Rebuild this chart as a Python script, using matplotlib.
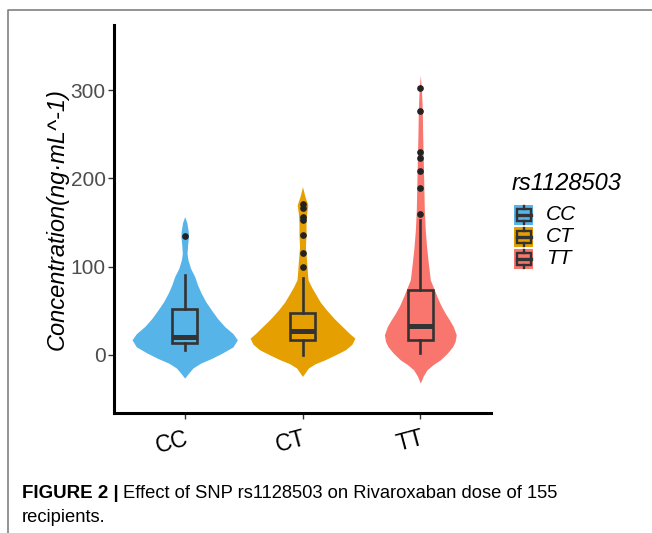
"""
Violin + box plot of concentration by rs1128503 genotype
"""
import numpy as np
import matplotlib
matplotlib.use('Agg')
import matplotlib.pyplot as plt
from matplotlib.patches import Rectangle

plt.rcParams['font.family'] = ['Liberation Sans', 'DejaVu Sans']

# Genotype groups
genotypes = ['CC', 'CT', 'TT']
colors = ['#56B4E9', '#E69F00', '#F8766D']

# Violin outlines: value, half width (x units)
cc_vals = [156.6, 150, 140, 134, 125, 115, 107.6, 98, 88.7, 79, 69.9, 60, 51, 41, 32, 24, 17, 9, 1.9, -4, -9.4, -15, -20.7, -26.4]
cc_half = [0, 0.018, 0.03, 0.032, 0.025, 0.02, 0.028, 0.05, 0.085, 0.11, 0.14, 0.18, 0.226, 0.28, 0.34, 0.41, 0.447, 0.41, 0.318, 0.23, 0.136, 0.07, 0.034, 0]

ct_vals = [190.6, 180, 170, 160, 150, 136, 122.6, 107.6, 93, 85, 77, 70, 60, 51, 41, 32, 24, 18.9, 12, 5.7, 0, -5.7, -10, -15, -24.5]
ct_half = [0, 0.02, 0.045, 0.035, 0.03, 0.03, 0.025, 0.034, 0.042, 0.047, 0.076, 0.106, 0.15, 0.203, 0.27, 0.339, 0.4, 0.445, 0.42, 0.364, 0.28, 0.19, 0.11, 0.05, 0]

tt_vals = [317, 300, 277, 250, 221, 190, 164, 141.6, 120, 104, 85, 66, 56, 47, 39, 32, 22.6, 15, 9.4, 2, -5.7, -11, -17, -24, -32]
tt_half = [0, 0.01, 0.017, 0.02, 0.025, 0.03, 0.034, 0.042, 0.055, 0.068, 0.085, 0.142, 0.175, 0.212, 0.25, 0.28, 0.305, 0.295, 0.275, 0.23, 0.17, 0.11, 0.057, 0.025, 0]

violin_vals = [cc_vals, ct_vals, tt_vals]
violin_half = [cc_half, ct_half, tt_half]

# Box plot statistics
whis_lo = [4.9, 0.0, 1.9]
q1 = [13.2, 17.0, 17.0]
medians = [20.4, 27.2, 33.2]
q3 = [51.7, 47.2, 73.6]
whis_hi = [90.0, 86.8, 152.9]
outliers = [
    [135],
    [171, 167, 156, 153, 136, 116, 99],
    [303, 277, 230, 223, 208, 189, 160],
]

fig = plt.figure(figsize=(6.52, 5.33), dpi=100)

# background layer: frame, caption, legend
bg = fig.add_axes([0, 0, 1, 1], zorder=-1)
bg.set_xlim(0, 652)
bg.set_ylim(533, 0)
bg.axis('off')
bg.plot([8, 8, 652], [533, 9.5, 9.5], color='#808080', lw=1.2, solid_capstyle='butt')

ax = fig.add_axes([114/652, 1-413/533, (491-114)/652, (413-25)/533])
pos = np.arange(1, len(genotypes)+1)

for i in range(len(genotypes)):
    v = np.array(violin_vals[i])
    h = np.array(violin_half[i])
    ax.fill_betweenx(v, pos[i]-h, pos[i]+h, color=colors[i], lw=0, zorder=1)

stats = []
for i in range(len(genotypes)):
    stats.append(dict(whislo=whis_lo[i], q1=q1[i], med=medians[i], q3=q3[i],
                      whishi=whis_hi[i], fliers=outliers[i]))

bp = ax.bxp(stats, positions=pos, widths=0.21, patch_artist=True, showcaps=False,
            boxprops=dict(edgecolor='#333333', linewidth=1.9),
            whiskerprops=dict(color='#333333', linewidth=1.9),
            medianprops=dict(color='#333333', linewidth=3.6, solid_capstyle='butt'),
            flierprops=dict(marker='o', markerfacecolor='#222222', markeredgecolor='#222222',
                            markersize=3.8, linestyle='none'),
            zorder=3)
for b, c in zip(bp['boxes'], colors):
    b.set_facecolor(c)

ax.set_xlim(0.4, 3.6)
ax.set_ylim(-66, 374)
ax.set_yticks([0, 100, 200, 300])
ax.set_xticks(pos)
ax.set_xticklabels(genotypes, rotation=15, ha='right', va='top', rotation_mode='anchor',
                   fontsize=16.5, color='black')
ax.tick_params(axis='y', labelsize=15, labelcolor='#4D4D4D', color='#333333',
               length=4, width=1, pad=2)
ax.tick_params(axis='x', color='#333333', length=4, width=1, pad=6)
for s in ['top', 'right']:
    ax.spines[s].set_visible(False)
for s in ['left', 'bottom']:
    ax.spines[s].set_linewidth(2.2)
    ax.spines[s].set_color('black')
ax.set_ylabel('Concentration(ng·mL^-1)', fontsize=17, style='italic', labelpad=1)
ax.set_xlabel('')

# legend
bg.text(512, 183, 'rs1128503', fontsize=17, style='italic', va='center', ha='left')
key_y = [215, 237, 259]
for i in range(len(genotypes)):
    yc = key_y[i]
    bg.add_patch(Rectangle((514, yc-10), 19, 20, facecolor=colors[i], lw=0))
    bg.add_patch(Rectangle((516.5, yc-6), 14, 12, facecolor=colors[i],
                           edgecolor='#333333', lw=1.7))
    bg.plot([516.5, 530.5], [yc, yc], color='#333333', lw=2.4)
    bg.plot([523.5, 523.5], [yc-9, yc-6], color='#333333', lw=1.7)
    bg.plot([523.5, 523.5], [yc+6, yc+9], color='#333333', lw=1.7)
    bg.text(546, yc, genotypes[i], fontsize=15, style='italic', va='center', ha='left')

# caption
bg.text(22, 493, 'FIGURE 2 |', fontsize=13.5, weight='bold', va='center', ha='left')
bg.text(123, 493, 'Effect of SNP rs1128503 on Rivaroxaban dose of 155', fontsize=13.2,
        va='center', ha='left')
bg.text(22, 517, 'recipients.', fontsize=13.2, va='center', ha='left')

fig.savefig('out.png', dpi=100)
